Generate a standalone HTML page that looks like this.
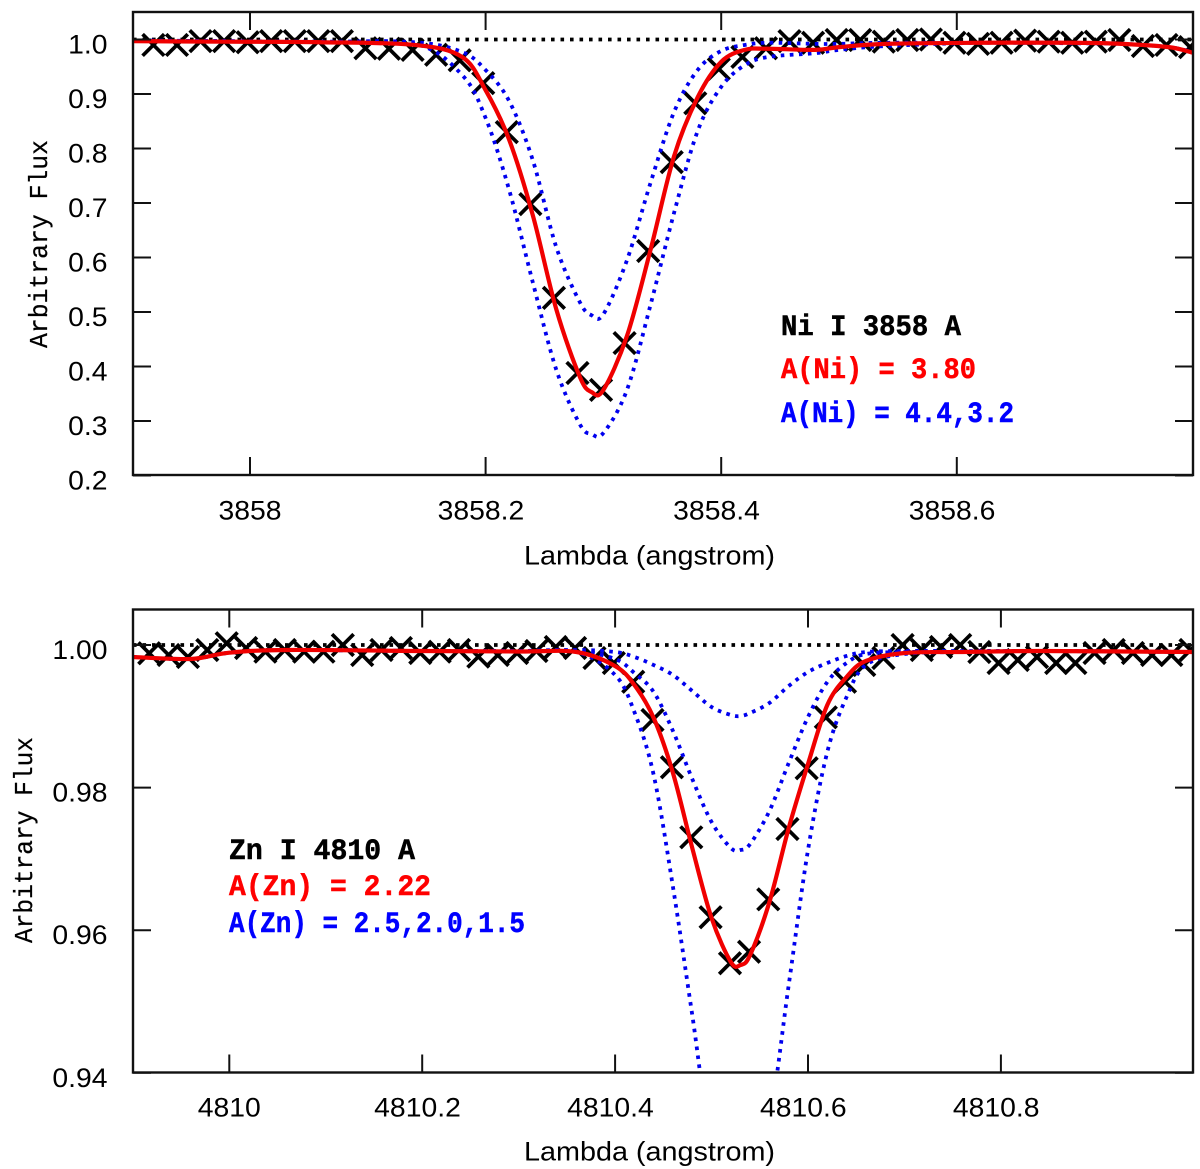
<!DOCTYPE html>
<html lang="en">
<head>
<meta charset="utf-8">
<title>Ni I and Zn I line profiles</title>
<style>
html,body{margin:0;padding:0;background:#fff;width:1200px;height:1169px;overflow:hidden;}
svg{display:block;}
text{fill:#000;}
.tick-label{font-family:"Liberation Sans",sans-serif;font-size:27px;}
.note{font-family:"Liberation Mono",monospace;font-weight:bold;font-size:30px;stroke-width:0.5px;}
.flux-title{font-family:"Liberation Mono",monospace;font-size:26px;stroke:#000;stroke-width:0.25px;}
</style>
</head>
<body>
<svg id="figure" xmlns="http://www.w3.org/2000/svg" width="1200" height="1169" viewBox="0 0 1200 1169">
  <defs>
    <clipPath id="clip-top"><rect x="133" y="12" width="1060" height="463"/></clipPath>
    <clipPath id="clip-bottom"><rect x="133" y="609" width="1060" height="464"/></clipPath>
  </defs>
  <g id="panel-top"></g>
  <g id="panel-bottom"></g>

  <text class="flux-title" transform="translate(47,348) rotate(-90)" textLength="208" lengthAdjust="spacingAndGlyphs">Arbitrary Flux</text>
  <text class="flux-title" transform="translate(32,943) rotate(-90)" textLength="206" lengthAdjust="spacingAndGlyphs">Arbitrary Flux</text>

  <text class="tick-label" x="524" y="564.5" textLength="251" lengthAdjust="spacingAndGlyphs">Lambda (angstrom)</text>
  <text class="tick-label" x="524" y="1160.7" textLength="251" lengthAdjust="spacingAndGlyphs">Lambda (angstrom)</text>

  <text class="note" x="781" y="335" textLength="180" lengthAdjust="spacingAndGlyphs" style="stroke:#000">Ni I 3858 A</text>
  <text class="note" x="781" y="378" textLength="195" lengthAdjust="spacingAndGlyphs" style="fill:#f00;stroke:#f00">A(Ni) = 3.80</text>
  <text class="note" x="781" y="422" textLength="233" lengthAdjust="spacingAndGlyphs" style="fill:#00f;stroke:#00f">A(Ni) = 4.4,3.2</text>

  <text class="note" x="229" y="859" textLength="186" lengthAdjust="spacingAndGlyphs" style="stroke:#000">Zn I 4810 A</text>
  <text class="note" x="229" y="895" textLength="202" lengthAdjust="spacingAndGlyphs" style="fill:#f00;stroke:#f00">A(Zn) = 2.22</text>
  <text class="note" x="229" y="932" textLength="296" lengthAdjust="spacingAndGlyphs" style="fill:#00f;stroke:#00f">A(Zn) = 2.5,2.0,1.5</text>
</svg>

<script>
// ---- Top panel: Ni I 3858 ----
const niXTicks = [3858, 3858.2, 3858.4, 3858.6];
const niXTickLabels = ["3858", "3858.2", "3858.4", "3858.6"];
const niYTicks = [1.0, 0.9, 0.8, 0.7, 0.6, 0.5, 0.4, 0.3, 0.2];
const niYTickLabels = ["1.0", "0.9", "0.8", "0.7", "0.6", "0.5", "0.4", "0.3", "0.2"];

const niObsLambda = [3857.918,3857.938,3857.958,3857.978,3857.998,3858.018,3858.038,3858.058,3858.078,3858.098,3858.118,3858.138,3858.158,3858.178,3858.198,3858.218,3858.238,3858.258,3858.278,3858.298,3858.318,3858.338,3858.358,3858.378,3858.398,3858.418,3858.438,3858.458,3858.478,3858.498,3858.518,3858.538,3858.558,3858.578,3858.598,3858.618,3858.638,3858.658,3858.678,3858.698,3858.718,3858.738,3858.758,3858.778,3858.798];
const niObsFlux = [.990,.990,.997,.997,.995,.997,.997,.997,.997,.984,.983,.981,.972,.962,.920,.830,.698,.526,.388,.357,.443,.612,.775,.883,.946,.968,.984,.997,.994,.999,.999,.996,.999,1.000,.994,.992,.994,.998,.996,.994,.996,.999,.988,.990,.986];

const niModelLambda = [3857.90,3857.98,3858.06,3858.14,3858.18,3858.20,3858.22,3858.24,3858.26,3858.28,3858.29,3858.30,3858.32,3858.34,3858.36,3858.38,3858.40,3858.42,3858.44,3858.48,3858.50,3858.54,3858.62,3858.70,3858.74,3858.78,3858.80];
const niBestFlux = [.997,.996,.995,.990,.968,.907,.816,.678,.505,.381,.353,.357,.456,.614,.786,.894,.959,.981,.983,.981,.986,.992,.994,.994,.992,.986,.976];
const niHighFlux = [.998,.997,.995,.992,.935,.856,.724,.555,.394,.294,.276,.278,.357,.513,.682,.832,.913,.953,.968,.975,.981,.988,.994,.993,.992,.986,.977];
const niLowFlux = [.998,.997,.996,.995,.977,.944,.887,.779,.619,.518,.494,.496,.595,.737,.867,.944,.979,.990,.994,.992,.992,.994,.994,.994,.992,.986,.977];

// ---- Bottom panel: Zn I 4810 ----
const znXTicks = [4810, 4810.2, 4810.4, 4810.6, 4810.8];
const znXTickLabels = ["4810", "4810.2", "4810.4", "4810.6", "4810.8"];
const znYTicks = [1.00, 0.98, 0.96, 0.94];
const znYTickLabels = ["1.00", "0.98", "0.96", "0.94"];

const znObsLambda = [4809.9170,4809.9371,4809.9571,4809.9772,4809.9973,4810.0174,4810.0374,4810.0575,4810.0776,4810.0976,4810.1177,4810.1378,4810.1578,4810.1779,4810.1980,4810.2181,4810.2381,4810.2582,4810.2783,4810.2983,4810.3184,4810.3385,4810.3585,4810.3786,4810.3987,4810.4188,4810.4388,4810.4589,4810.4790,4810.4990,4810.5191,4810.5389,4810.5588,4810.5787,4810.5986,4810.6185,4810.6384,4810.6583,4810.6782,4810.6981,4810.7180,4810.7379,4810.7578,4810.7777,4810.7976,4810.8175,4810.8374,4810.8573,4810.8772,4810.8971,4810.9170,4810.9369,4810.9568,4810.9767,4810.9966];
const znObsFlux = [.99884,.99860,.99832,.99930,1.00024,.99958,.99906,.99930,.99906,.99906,1.00000,.99860,.99930,.99958,.99888,.99906,.99930,.99836,.99860,.99888,.99916,.99972,.99958,.99818,.99748,.99485,.98948,.98285,.97303,.96181,.95536,.95698,.96433,.97419,.98271,.98986,.99485,.99719,.99818,1.00000,.99930,.99972,1.00000,.99902,.99748,.99790,.99832,.99748,.99748,.99888,.99930,.99888,.99860,.99860,.99930];

const znModelLambda = [4809.90,4809.96,4810.00,4810.06,4810.20,4810.30,4810.36,4810.40,4810.42,4810.44,4810.46,4810.48,4810.50,4810.52,4810.53,4810.54,4810.56,4810.58,4810.60,4810.62,4810.64,4810.66,4810.70,4810.76,4810.84,4811.00];
const znBestFlux = [.99832,.99804,.99892,.99930,.99916,.99909,.99902,.99705,.99439,.98976,.98205,.97153,.96171,.95554,.95512,.95652,.96396,.97433,.98331,.99158,.99551,.99776,.99888,.99902,.99916,.99902];
const znHighFlux = [.99832,.99804,.99892,.99930,.99916,.99916,.99902,.99579,.99060,.98177,.96606,.94811,.93000,.92800,.92750,.92800,.93338,.95231,.97125,.98499,.99271,.99719,.99874,.99902,.99916,.99902];
const znMidFlux = [.99832,.99804,.99892,.99930,.99916,.99916,.99916,.99804,.99607,.99341,.98794,.98121,.97518,.97153,.97125,.97209,.97672,.98345,.98990,.99481,.99748,.99874,.99902,.99902,.99916,.99902];
const znLowFlux = [.99832,.99804,.99892,.99930,.99916,.99916,.99930,.99902,.99832,.99719,.99579,.99355,.99130,.99018,.99004,.99046,.99187,.99425,.99621,.99748,.99846,.99902,.99916,.99916,.99916,.99902];

// ---- Axis functions ----
const niX = l => 250 + (l - 3858) * 1178;
const niY = f => 39.5 + (1 - f) * 545;
const znX = l => 229.3 + (l - 4810) * 964.5;
const znY = f => 645 + (1 - f) * 7130;

const NS = "http://www.w3.org/2000/svg";

function make(parent, tag, attrs) {
  const el = document.createElementNS(NS, tag);
  for (const k in attrs) el.setAttribute(k, attrs[k]);
  parent.appendChild(el);
  return el;
}

function smoothPath(xs, ys) {
  let d = "M" + xs[0].toFixed(2) + " " + ys[0].toFixed(2);
  for (let i = 0; i < xs.length - 1; i++) {
    const i0 = Math.max(i - 1, 0), i3 = Math.min(i + 2, xs.length - 1);
    const c1x = xs[i] + (xs[i + 1] - xs[i0]) / 6, c1y = ys[i] + (ys[i + 1] - ys[i0]) / 6;
    const c2x = xs[i + 1] - (xs[i3] - xs[i]) / 6, c2y = ys[i + 1] - (ys[i3] - ys[i]) / 6;
    d += "C" + c1x.toFixed(2) + " " + c1y.toFixed(2) + " " + c2x.toFixed(2) + " " + c2y.toFixed(2) + " " + xs[i + 1].toFixed(2) + " " + ys[i + 1].toFixed(2);
  }
  return d;
}

function drawModel(group, lambda, flux, xf, yf, color, width, dash, name) {
  const p = make(group, "path", {
    d: smoothPath(lambda.map(xf), flux.map(yf)),
    fill: "none", stroke: color, "stroke-width": width,
    "stroke-linejoin": "round"
  });
  if (dash) p.setAttribute("stroke-dasharray", dash);
  
  
}

function drawCrosses(group, lambda, flux, xf, yf) {
  const h = 10.8;
  lambda.forEach((l, i) => {
    const x = xf(l), y = yf(flux[i]);
    const c = make(group, "path", {
      d: `M${x - h} ${y - h}L${x + h} ${y + h}M${x - h} ${y + h}L${x + h} ${y - h}`,
      fill: "none", stroke: "#000", "stroke-width": 3.7
    });
    
    
  });
}

function textLabel(parent, x, y, str, anchor, name) {
  const t = make(parent, "text", {
    class: "tick-label",
    transform: `translate(${x},${y}) scale(1.05,1)`,
    "text-anchor": anchor
  });
  t.textContent = str;
  
  
}

function drawFrame(parent, box, xTicks, xLabels, yTicks, yLabels, xf, yf, xLabelY) {
  const tickLen = 18;
  const seg = (x1, y1, x2, y2, name) => {
    const l = make(parent, "line", { x1, y1, x2, y2, stroke: "#111", "stroke-width": 2 });
    
    
  };
  xTicks.forEach((v, i) => {
    const x = xf(v);
    seg(x, box.b, x, box.b - tickLen, "x-tick-bottom");
    seg(x, box.t, x, box.t + tickLen, "x-tick-top");
    const shift = xLabels[i].indexOf(".") >= 0 ? 4.7 : 0;
    textLabel(parent, x - shift, xLabelY, xLabels[i], "middle", "x-tick-label");
  });
  yTicks.forEach((v, i) => {
    const y = yf(v);
    seg(box.l, y, box.l + tickLen, y, "y-tick-left");
    seg(box.r, y, box.r - tickLen, y, "y-tick-right");
    textLabel(parent, 107.5, y + 14, yLabels[i], "end", "y-tick-label");
  });
  const r = make(parent, "rect", {
    x: box.l, y: box.t, width: box.r - box.l, height: box.b - box.t,
    fill: "none", stroke: "#111", "stroke-width": 2.4
  });
  
  
}

function drawContinuum(group, box, y) {
  const l = make(group, "line", {
    x1: box.l, y1: y, x2: box.r, y2: y, stroke: "#000",
    "stroke-width": 3.8, "stroke-dasharray": "3.6 5.9"
  });
  
  
}

const BLUE = "#0000ee";
const BLUE_DASH = "3.6 5.4";

// ---- Render top panel ----
const topPanel = document.getElementById("panel-top");
const topBox = { l: 133, r: 1193, t: 12, b: 475 };
const topMarks = make(topPanel, "g", { "clip-path": "url(#clip-top)" });


drawCrosses(topMarks, niObsLambda, niObsFlux, niX, niY);
drawContinuum(topMarks, topBox, niY(1));
drawModel(topMarks, niModelLambda, niHighFlux, niX, niY, BLUE, 3.8, BLUE_DASH, "model-ni-4-4");
drawModel(topMarks, niModelLambda, niLowFlux, niX, niY, BLUE, 3.8, BLUE_DASH, "model-ni-3-2");
drawModel(topMarks, niModelLambda, niBestFlux, niX, niY, "#f00000", 4.2, null, "model-ni-3-80");
drawFrame(topPanel, topBox, niXTicks, niXTickLabels, niYTicks, niYTickLabels, niX, niY, 519.5);

// ---- Render bottom panel ----
const bottomPanel = document.getElementById("panel-bottom");
const bottomBox = { l: 133, r: 1193, t: 609.5, b: 1072.5 };
const bottomMarks = make(bottomPanel, "g", { "clip-path": "url(#clip-bottom)" });


drawCrosses(bottomMarks, znObsLambda, znObsFlux, znX, znY);
drawContinuum(bottomMarks, bottomBox, znY(1));
drawModel(bottomMarks, znModelLambda, znHighFlux, znX, znY, BLUE, 3.8, BLUE_DASH, "model-zn-2-5");
drawModel(bottomMarks, znModelLambda, znMidFlux, znX, znY, BLUE, 3.8, BLUE_DASH, "model-zn-2-0");
drawModel(bottomMarks, znModelLambda, znLowFlux, znX, znY, BLUE, 3.8, BLUE_DASH, "model-zn-1-5");
drawModel(bottomMarks, znModelLambda, znBestFlux, znX, znY, "#f00000", 4.2, null, "model-zn-2-22");
drawFrame(bottomPanel, bottomBox, znXTicks, znXTickLabels, znYTicks, znYTickLabels, znX, znY, 1116.7);
</script>
</body>
</html>
